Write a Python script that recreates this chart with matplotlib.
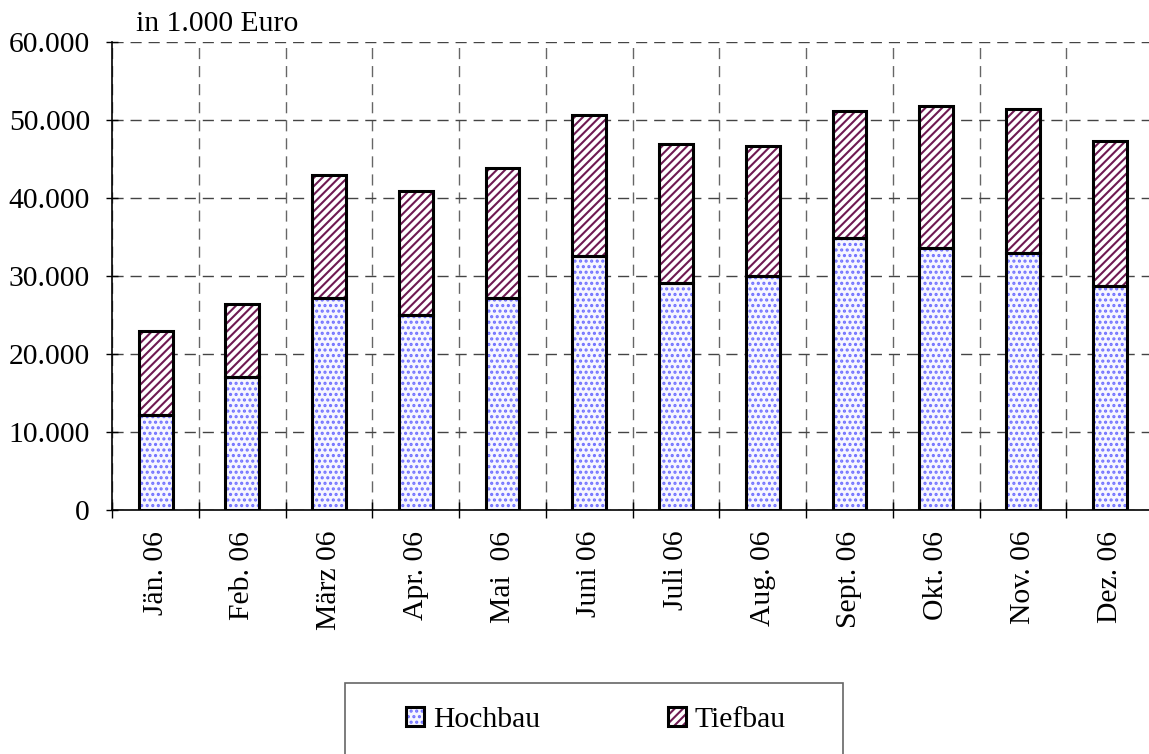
import numpy as np
import matplotlib
matplotlib.use("Agg")
import matplotlib.pyplot as plt
from matplotlib.ticker import FixedLocator
from matplotlib.patches import Rectangle

plt.rcParams['font.family'] = ['Liberation Serif', 'DejaVu Serif']

monate = ["Jän. 06", "Feb. 06", "März 06", "Apr. 06", "Mai  06", "Juni 06",
          "Juli 06", "Aug. 06", "Sept. 06", "Okt. 06", "Nov. 06", "Dez. 06"]
gesamt = [22950, 26370, 42990, 40940, 43850, 50680,
          46920, 46710, 51200, 51750, 51370, 47350]
hochbau = [12180, 17050, 27220, 24960, 27220, 32600,
           29140, 29960, 34830, 33590, 32950, 28680]
tiefbau = [g - h for g, h in zip(gesamt, hochbau)]

yticks = [0, 10000, 20000, 30000, 40000, 50000, 60000]
ylabels = ["0", "10.000", "20.000", "30.000", "40.000", "50.000", "60.000"]

hoch_col = "#7070ff"
tief_col = "#6e1a52"
plt.rcParams['hatch.linewidth'] = 1.5
fs = 21.3

W, H = 1149, 754
fig = plt.figure(figsize=(W / 100, H / 100), dpi=100)
ax = fig.add_axes([112.3 / W, 1 - 510 / H, (1153 - 112.3) / W, 468 / H])

x = np.arange(len(monate))
bw = 0.39
hb = ax.bar(x, hochbau, bw, color="#f6f6ff", edgecolor=hoch_col, hatch="...", linewidth=0, zorder=3)
tb = ax.bar(x, tiefbau, bw, bottom=hochbau, color="white", edgecolor=tief_col, hatch="////", linewidth=0, zorder=3)
ho = ax.bar(x, hochbau, bw, fill=False, edgecolor="black", linewidth=2.2, zorder=4)
to = ax.bar(x, tiefbau, bw, bottom=hochbau, fill=False, edgecolor="black", linewidth=2.2, zorder=4)

ax.set_xlim(-0.5, len(monate) - 0.5)
ax.set_ylim(0, 60000)
ax.set_yticks(yticks)
ax.set_yticklabels(ylabels, fontsize=fs)
ax.set_xticks(x)
ax.set_xticklabels(monate, rotation=90, fontsize=fs, va="top")
ax.xaxis.set_minor_locator(FixedLocator(np.arange(-0.5, len(monate), 1.0)))
ax.tick_params(axis="x", which="major", length=0, pad=15)
ax.tick_params(axis="x", which="minor", length=12, direction="inout", width=1)
ax.tick_params(axis="y", length=8, direction="inout", width=1, pad=12)

ax.grid(axis="y", which="major", linestyle=(0, (8, 5)), color="#444444", linewidth=1, zorder=1)
ax.grid(axis="x", which="minor", linestyle=(0, (8, 5)), color="#666666", linewidth=1, zorder=1)
ax.set_axisbelow(True)
for s in ["top", "right"]:
    ax.spines[s].set_visible(False)
ax.spines["left"].set_linewidth(1.2)
ax.spines["bottom"].set_linewidth(1.2)

fig.text(136 / W, 1 - 31 / H, "in 1.000 Euro", fontsize=fs, va="baseline", ha="left")

# legend frame drawn separately, entries centered inside
fig.patches.append(Rectangle((345 / W, 1 - 757 / H), 498 / W, 74 / H,
                             transform=fig.transFigure, fill=False,
                             edgecolor="#666666", linewidth=1.2))
leg = fig.legend([(hb[0], ho[0]), (tb[0], to[0])], ["Hochbau", "Tiefbau"],
                 loc="center", bbox_to_anchor=(596 / W, 1 - 720 / H),
                 ncol=2, fontsize=fs, frameon=False,
                 handlelength=0.62, handleheight=0.62, handletextpad=0.3,
                 columnspacing=4.3, borderaxespad=0)

fig.savefig("out.png", dpi=100)
